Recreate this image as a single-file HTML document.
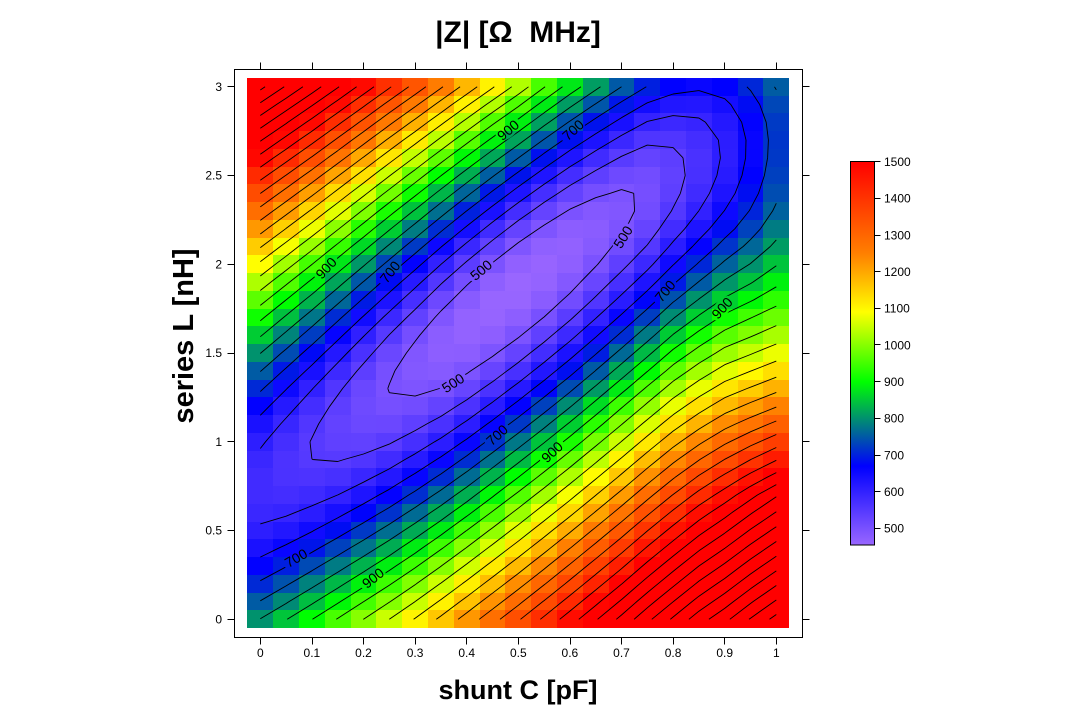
<!DOCTYPE html>
<html><head><meta charset="utf-8">
<style>
html,body{margin:0;padding:0;background:#fff}
svg{display:block}
text{font-family:"Liberation Sans",Arial,sans-serif;fill:#000}
</style></head>
<body>
<svg id="s" width="1080" height="720" viewBox="0 0 1080 720" xmlns="http://www.w3.org/2000/svg">
<defs>
<linearGradient id="cb" x1="0" y1="1" x2="0" y2="0">
<stop offset="0" stop-color="#9966ff"/>
<stop offset="0.2057" stop-color="#0000ff"/>
<stop offset="0.4258" stop-color="#00ff00"/>
<stop offset="0.6077" stop-color="#ffff00"/>
<stop offset="0.7608" stop-color="#ff7f00"/>
<stop offset="1" stop-color="#ff0000"/>
</linearGradient>
<mask id="lm" maskUnits="userSpaceOnUse" x="0" y="0" width="1080" height="720">
<rect x="0" y="0" width="1080" height="720" fill="#fff"/>
<g fill="#000">
<ellipse cx="481" cy="270" rx="15" ry="7.5" transform="rotate(-40 481 270)"/>
<ellipse cx="453" cy="383" rx="15" ry="7.5" transform="rotate(-33 453 383)"/>
<ellipse cx="623" cy="237" rx="15" ry="7.5" transform="rotate(-58 623 237)"/>
<ellipse cx="390" cy="272" rx="15" ry="7.5" transform="rotate(-52 390 272)"/>
<ellipse cx="573" cy="130" rx="15" ry="7.5" transform="rotate(-42 573 130)"/>
<ellipse cx="665" cy="291" rx="15" ry="7.5" transform="rotate(-50 665 291)"/>
<ellipse cx="497" cy="435" rx="15" ry="7.5" transform="rotate(-42 497 435)"/>
<ellipse cx="296" cy="558" rx="15" ry="7.5" transform="rotate(-30 296 558)"/>
<ellipse cx="326" cy="268" rx="15" ry="7.5" transform="rotate(-47 326 268)"/>
<ellipse cx="508" cy="130" rx="15" ry="7.5" transform="rotate(-40 508 130)"/>
<ellipse cx="722" cy="308" rx="15" ry="7.5" transform="rotate(-48 722 308)"/>
<ellipse cx="552" cy="452" rx="15" ry="7.5" transform="rotate(-43 552 452)"/>
<ellipse cx="373" cy="578" rx="15" ry="7.5" transform="rotate(-38 373 578)"/>
</g>
</mask>
</defs>

<rect x="0" y="0" width="1080" height="720" fill="#fff"/>

<!-- heatmap -->
<g id="heat" shape-rendering="crispEdges"></g>
<!-- contours -->
<path id="cont" d="" fill="none" stroke="#000" stroke-width="0.9" mask="url(#lm)"/>

<!-- contour labels -->
<g font-size="14" text-anchor="middle">
<text x="0" y="5" transform="translate(481,270) rotate(-40)">500</text>
<text x="0" y="5" transform="translate(453,383) rotate(-33)">500</text>
<text x="0" y="5" transform="translate(623,237) rotate(-58)">500</text>
<text x="0" y="5" transform="translate(390,272) rotate(-52)">700</text>
<text x="0" y="5" transform="translate(573,130) rotate(-42)">700</text>
<text x="0" y="5" transform="translate(665,291) rotate(-50)">700</text>
<text x="0" y="5" transform="translate(497,435) rotate(-42)">700</text>
<text x="0" y="5" transform="translate(296,558) rotate(-30)">700</text>
<text x="0" y="5" transform="translate(326,268) rotate(-47)">900</text>
<text x="0" y="5" transform="translate(508,130) rotate(-40)">900</text>
<text x="0" y="5" transform="translate(722,308) rotate(-48)">900</text>
<text x="0" y="5" transform="translate(552,452) rotate(-43)">900</text>
<text x="0" y="5" transform="translate(373,578) rotate(-38)">900</text>
</g>

<!-- frame -->
<rect x="234.5" y="69.5" width="568" height="568" fill="none" stroke="#000" stroke-width="1"/>
<path fill="none" stroke="#000" stroke-width="1" d="
M260.5 637.5v7 M312.5 637.5v7 M363.5 637.5v7 M415.5 637.5v7 M466.5 637.5v7 M518.5 637.5v7 M570.5 637.5v7 M621.5 637.5v7 M673.5 637.5v7 M724.5 637.5v7 M776.5 637.5v7
M260.5 69.5v-7 M312.5 69.5v-7 M363.5 69.5v-7 M415.5 69.5v-7 M466.5 69.5v-7 M518.5 69.5v-7 M570.5 69.5v-7 M621.5 69.5v-7 M673.5 69.5v-7 M724.5 69.5v-7 M776.5 69.5v-7
M234.5 619.5h-7 M234.5 530.5h-7 M234.5 441.5h-7 M234.5 353.5h-7 M234.5 264.5h-7 M234.5 175.5h-7 M234.5 86.5h-7
M802.5 619.5h7 M802.5 530.5h7 M802.5 441.5h7 M802.5 353.5h7 M802.5 264.5h7 M802.5 175.5h7 M802.5 86.5h7"/>

<!-- x tick labels -->
<g font-size="12" text-anchor="middle">
<text x="260.3" y="657">0</text>
<text x="311.9" y="657">0.1</text>
<text x="363.5" y="657">0.2</text>
<text x="415.1" y="657">0.3</text>
<text x="466.7" y="657">0.4</text>
<text x="518.3" y="657">0.5</text>
<text x="569.9" y="657">0.6</text>
<text x="621.5" y="657">0.7</text>
<text x="673.1" y="657">0.8</text>
<text x="724.7" y="657">0.9</text>
<text x="776.3" y="657">1</text>
</g>
<!-- y tick labels -->
<g font-size="12" text-anchor="end">
<text x="222" y="623.5">0</text>
<text x="222" y="534.7">0.5</text>
<text x="222" y="446">1</text>
<text x="222" y="357.2">1.5</text>
<text x="222" y="268.5">2</text>
<text x="222" y="179.7">2.5</text>
<text x="222" y="91">3</text>
</g>

<!-- titles -->
<text x="518" y="42" font-size="30" font-weight="bold" text-anchor="middle">|Z| [Ω&#160;&#160;MHz]</text>
<text x="518" y="699" font-size="27" font-weight="bold" text-anchor="middle">shunt C [pF]</text>
<text x="0" y="0" font-size="29" font-weight="bold" text-anchor="middle" transform="translate(193,336) rotate(-90)">series L [nH]</text>

<!-- colorbar -->
<rect x="850.5" y="161.5" width="24" height="383.5" fill="url(#cb)" stroke="#000" stroke-width="1"/>
<path fill="none" stroke="#000" stroke-width="1" d="
M874.5 161.5h6 M874.5 198.5h6 M874.5 235.5h6 M874.5 271.5h6 M874.5 308.5h6 M874.5 344.5h6 M874.5 381.5h6 M874.5 418.5h6 M874.5 455.5h6 M874.5 491.5h6 M874.5 528.5h6"/>
<g font-size="12">
<text x="884" y="166">1500</text>
<text x="884" y="202.7">1400</text>
<text x="884" y="239.4">1300</text>
<text x="884" y="276">1200</text>
<text x="884" y="312.7">1100</text>
<text x="884" y="349.4">1000</text>
<text x="884" y="386">900</text>
<text x="884" y="422.7">800</text>
<text x="884" y="459.4">700</text>
<text x="884" y="496">600</text>
<text x="884" y="532.7">500</text>
</g>
</svg>

<script>
(function(){
  var LV=[[0,0.75],[0.093,0.954],[0.245,1.293],[0.49,1.85],[0.742,2.39],[0.829,2.55],[0.894,2.63],[0.943,2.67],[1.0,2.70]];
  var ZV=[[0,578],[0.093,550],[0.245,500],[0.37,466],[0.43,458],[0.49,454],[0.55,458],[0.61,466],[0.742,500],[0.829,550],[0.894,600],[0.943,650],[0.984,700],[1.0,718]];
  var KU=[[0,740],[0.25,775],[0.5,820],[0.75,810],[1,760]];
  var KDN=[[0,740],[0.3,725],[0.5,725],[0.7,735],[0.8,740],[0.9,700],[1,560]];
  var KDF=[[0,740],[0.3,725],[0.5,725],[0.7,735],[0.8,745],[0.9,760],[1,790]];
  function lin(t,x){
    if(x<=t[0][0]) return t[0][1];
    for(var i=1;i<t.length;i++){
      if(x<=t[i][0]){var a=t[i-1],b=t[i];return a[1]+(b[1]-a[1])*(x-a[0])/(b[0]-a[0]);}
    }
    return t[t.length-1][1];
  }
  function Z(c,l){
    var lv=lin(LV,c), zv=lin(ZV,c), d=l-lv, k;
    if(d>0){k=lin(KU,c);return Math.sqrt(zv*zv+k*k*d*d);}
    var w=Math.min(1,-d/2);
    var kn=lin(KDN,c), kf=lin(KDF,c);
    k=kn+(kf-kn)*w;
    var zh=Math.sqrt(zv*zv+k*k*d*d);
    var zc=950;
    if(zh>zc) zh=zc+(zh-zc)*0.82;
    return zh;
  }
  var ST=[[455,[153,102,255]],[670,[0,0,255]],[900,[0,255,0]],[1090,[255,255,0]],[1250,[255,127,0]],[1500,[255,0,0]]];
  function col(v){
    if(v<=ST[0][0]) return 'rgb(153,102,255)';
    if(v>=1500) return 'rgb(255,0,0)';
    for(var i=1;i<ST.length;i++){
      if(v<=ST[i][0]){
        var a=ST[i-1],b=ST[i],f=(v-a[0])/(b[0]-a[0]);
        var r=Math.round(a[1][0]+(b[1][0]-a[1][0])*f);
        var g=Math.round(a[1][1]+(b[1][1]-a[1][1])*f);
        var bb=Math.round(a[1][2]+(b[1][2]-a[1][2])*f);
        return 'rgb('+r+','+g+','+bb+')';
      }
    }
    return 'rgb(255,0,0)';
  }
  var NI=21, NJ=31, G=[];
  for(var i=0;i<NI;i++){G[i]=[];for(var j=0;j<NJ;j++){G[i][j]=Z(0.05*i,0.1*j);}}
  var s='';
  for(var i=0;i<NI;i++){
    var x0=Math.round(247.4+25.8*i), x1=Math.round(247.4+25.8*(i+1));
    for(var j=0;j<NJ;j++){
      var yTop=Math.round(610.4-17.75*j), yBot=Math.round(610.4-17.75*j+17.75);
      s+='<rect x="'+x0+'" y="'+yTop+'" width="'+(x1-x0)+'" height="'+(yBot-yTop)+'" fill="'+col(G[i][j])+'"/>';
    }
  }
  document.getElementById('heat').innerHTML=s;
  function X(i){return 260.3+25.8*i;}
  function Y(j){return 619.3-17.75*j;}
  var d='';
  function f2(v){return v.toFixed(1);}
  for(var L=500;L<=2100;L+=50){
    for(var i=0;i<NI-1;i++){
      for(var j=0;j<NJ-1;j++){
        var a=G[i][j], b=G[i+1][j], c=G[i+1][j+1], e=G[i][j+1];
        var pts={}, cnt=0, t;
        if((a-L)*(b-L)<0){t=(L-a)/(b-a);pts.B=[X(i)+25.8*t,Y(j)];cnt++;}
        if((b-L)*(c-L)<0){t=(L-b)/(c-b);pts.R=[X(i+1),Y(j)-17.75*t];cnt++;}
        if((e-L)*(c-L)<0){t=(L-e)/(c-e);pts.T=[X(i)+25.8*t,Y(j+1)];cnt++;}
        if((a-L)*(e-L)<0){t=(L-a)/(e-a);pts.L=[X(i),Y(j)-17.75*t];cnt++;}
        var segs=[];
        if(cnt===2){
          var ks=Object.keys(pts);segs.push([pts[ks[0]],pts[ks[1]]]);
        }else if(cnt===4){
          var cen=(a+b+c+e)/4;
          if((a>L)===(cen>L)){segs.push([pts.B,pts.R]);segs.push([pts.T,pts.L]);}
          else{segs.push([pts.B,pts.L]);segs.push([pts.R,pts.T]);}
        }
        for(var k=0;k<segs.length;k++){
          d+='M'+f2(segs[k][0][0])+' '+f2(segs[k][0][1])+'L'+f2(segs[k][1][0])+' '+f2(segs[k][1][1]);
        }
      }
    }
  }
  document.getElementById('cont').setAttribute('d',d);
})();
</script>
</body></html>
